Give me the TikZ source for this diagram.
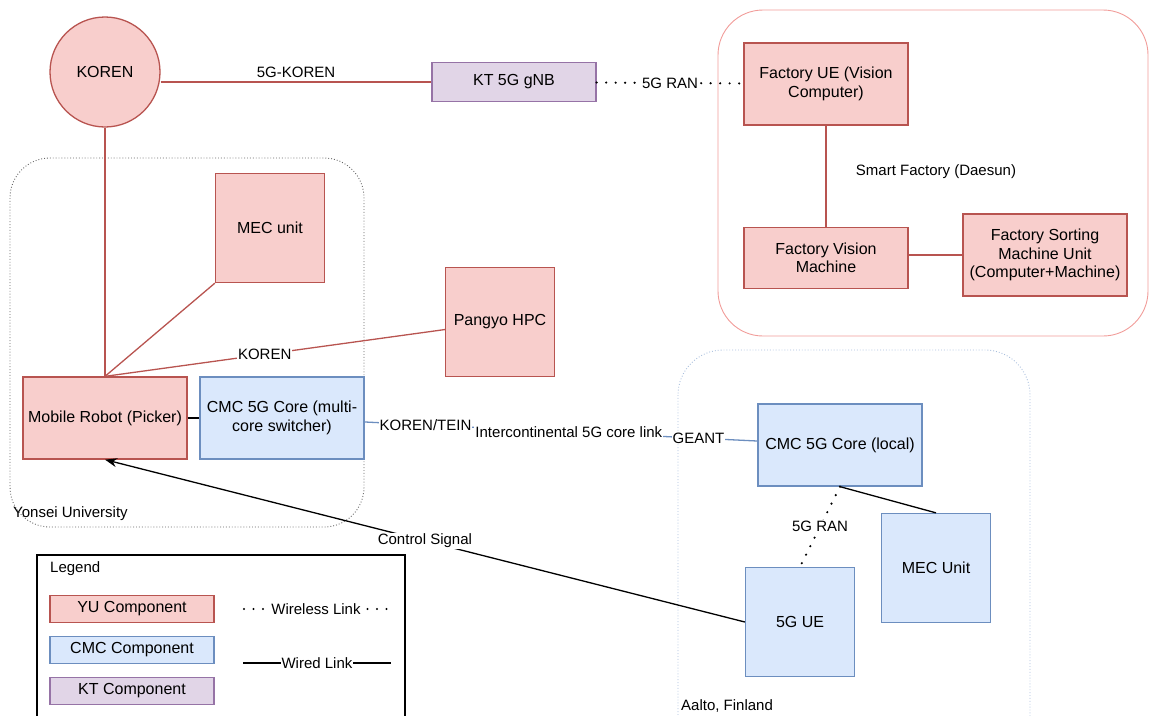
\documentclass[tikz,border=0pt]{standalone}
\usepackage{fontspec}
\setmainfont{Liberation Sans}
\usetikzlibrary{arrows.meta}
\definecolor{yufill}{HTML}{F8CECC}
\definecolor{yuline}{HTML}{B85450}
\definecolor{cmcfill}{HTML}{DAE8FC}
\definecolor{cmcline}{HTML}{6C8EBF}
\definecolor{ktfill}{HTML}{E1D5E7}
\definecolor{ktline}{HTML}{9673A6}
\definecolor{sfline}{HTML}{F19C99}
\definecolor{aaltoline}{HTML}{A9BFDD}
\begin{document}
\begin{tikzpicture}[x=1pt, y=-1pt,
    box/.style={draw, line width=1.3pt, align=center, inner sep=2pt, font=\fontsize{16}{18.5}\selectfont},
    yu/.style={box, draw=yuline, fill=yufill},
    cmc/.style={box, draw=cmcline, fill=cmcfill},
    kt/.style={box, draw=ktline, fill=ktfill},
    wide/.style={minimum width=164pt, minimum height=82pt},
    square/.style={minimum width=109pt, minimum height=109pt},
    lbl/.style={fill=white, text=black, inner sep=1pt, font=\fontsize{15}{17}\selectfont},
    plain/.style={inner sep=1pt, text=black, font=\fontsize{15}{17}\selectfont},
    wireless/.style={line width=2.4pt, dash pattern=on 0pt off 9.5pt, line cap=round},
    wired/.style={line width=1.3pt}
  ]
    \useasboundingbox (0,0) rectangle (1150,715);
    \draw[gray!80!black, line width=0.9pt, dotted, rounded corners=40pt] (10,158) rectangle (364,527);
    \draw[sfline, line width=0.9pt, rounded corners=45pt] (718,10) rectangle (1148,336);
    \draw[aaltoline, line width=0.9pt, dotted, rounded corners=45pt] (678,350) rectangle (1030,760);
    \draw[black, line width=1.3pt] (37,555) rectangle (405,760);
    \node[plain, anchor=west] (yonsei) at (12,514) {Yonsei University};
    \node[plain, anchor=west] (aalto) at (680,706) {Aalto, Finland};
    \node[plain] (sf) at (936,172) {Smart Factory (Daesun)};
    \node[plain, anchor=west] (legend) at (49,569) {Legend};
    \node[yu, circle, minimum size=110pt] (koren) at (105,72) {KOREN};
    \node[kt, minimum width=164pt, minimum height=39pt] (gnb) at (514,82) {KT 5G gNB};
    \node[yu, wide] (fue) at (826,84) {Factory UE (Vision\\Computer)};
    \node[yu, minimum width=164pt, minimum height=61pt] (fvm) at (826,258) {Factory Vision\\Machine};
    \node[yu, wide] (fsmu) at (1045,255) {Factory Sorting\\Machine Unit\\(Computer+Machine)};
    \node[yu, square] (mec) at (270,228) {MEC unit};
    \node[yu, square] (hpc) at (500,322) {Pangyo HPC};
    \node[yu, wide] (robot) at (105,418) {Mobile Robot (Picker)};
    \node[cmc, wide] (mcore) at (282,418) {CMC 5G Core (multi-\\core switcher)};
    \node[cmc, wide] (lcore) at (840,445) {CMC 5G Core (local)};
    \node[cmc, square] (mecu) at (936,568) {MEC Unit};
    \node[cmc, square] (ue) at (800,622) {5G UE};
    \node[yu, minimum width=164pt, minimum height=27pt] (yuleg) at (132,609) {YU Component};
    \node[cmc, minimum width=164pt, minimum height=27pt] (cmcleg) at (132,650) {CMC Component};
    \node[kt, minimum width=164pt, minimum height=27pt] (ktleg) at (132,691) {KT Component};
    \coordinate (wl1) at (244,609);
    \coordinate (wl2) at (388,609);
    \coordinate (wd1) at (243,663);
    \coordinate (wd2) at (391,663);
    \draw[wired, yuline] (koren.east |- gnb) -- (gnb) node[midway, above=3pt, plain] {5G-KOREN};
    \draw[wireless] (gnb) -- (fue) node[midway, lbl] {5G RAN};
    \draw[wired, yuline] (fue) -- (fvm);
    \draw[wired, yuline] (fvm.east |- fsmu) -- (fsmu);
    \draw[wired, yuline] (koren) -- (robot);
    \draw[wired, yuline] (mec.south west) -- (robot.north);
    \draw[wired, yuline] (hpc) -- (robot.north) node[pos=0.53, lbl] {KOREN};
    \draw[wired, black] (robot) -- (mcore);
    \draw[wired, cmcline] (mcore) -- (lcore)
      node[pos=0.155, lbl] {KOREN/TEIN}
      node[pos=0.52, lbl] {Intercontinental 5G core link}
      node[pos=0.85, lbl] {GEANT};
    \draw[wired, black] (lcore.south) -- (mecu.north);
    \draw[wireless] (lcore.south) -- (ue.north) node[midway, lbl] {5G RAN};
    \draw[wired, black, -{Stealth[length=12pt, width=9pt]}] (ue.west) -- (robot.south) node[midway, lbl] {Control Signal};
    \draw[wireless] (wl1) -- (wl2) node[midway, lbl] {Wireless Link};
    \draw[wired, black] (wd1) -- (wd2) node[midway, lbl] {Wired Link};
  \end{tikzpicture}
\end{document}
